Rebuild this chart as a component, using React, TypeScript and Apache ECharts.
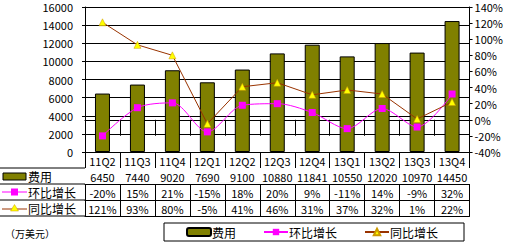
import React, { useEffect, useRef } from "react";
import * as echarts from "echarts";

const categories = ["11Q2", "11Q3", "11Q4", "12Q1", "12Q2", "12Q3", "12Q4", "13Q1", "13Q2", "13Q3", "13Q4"];
const expense = [6450, 7440, 9020, 7690, 9100, 10880, 11841, 10550, 12020, 10970, 14450];
const qoq = [-20, 15, 21, -15, 18, 20, 9, -11, 14, -9, 32];
const yoy = [121, 93, 80, -5, 41, 46, 31, 37, 32, 1, 22];
const seriesNames = ["费用", "环比增长", "同比增长"];
const unitLabel = "（万美元）";

const FONT = "'Noto Sans CJK SC', sans-serif";
const OLIVE = "#808000";
const MAGENTA = "#FF00FF";
const BROWN = "#993300";
const YELLOW = "#FFFF00";

const GRID_LEFT = 85;
const GRID_RIGHT = 30;
const GRID_TOP = 7;
const AXIS_Y = 152;
const ROW_H = 16;

export default function App() {
  const ref = useRef<HTMLDivElement>(null);
  useEffect(() => {
    if (!ref.current) return;
    const chart = echarts.init(ref.current, null, { renderer: "svg" });

    const rows = [
      null,
      expense.map((v) => String(v)),
      qoq.map((v) => v + "%"),
      yoy.map((v) => v + "%"),
    ];

    const xAxes: any[] = rows.map((row, i) => ({
      type: "category",
      gridIndex: 0,
      position: "bottom",
      offset: i * ROW_H,
      data: categories,
      axisLine: { show: true, lineStyle: { color: "#000", width: 1 } },
      axisTick: { show: true, length: ROW_H, interval: 0, lineStyle: { color: "#000" } },
      axisLabel: {
        interval: 0,
        margin: 3,
        color: "#000",
        fontSize: 11,
        fontFamily: FONT,
        formatter: row ? (_v: string, idx: number) => row[idx] : undefined,
      },
      splitLine: { show: false },
    }));
    xAxes.push({
      type: "category",
      gridIndex: 0,
      position: "bottom",
      offset: 4 * ROW_H,
      data: categories,
      axisLine: { show: true, lineStyle: { color: "#000", width: 1 } },
      axisTick: { show: false },
      axisLabel: { show: false },
    });

    const rowCenters = [1, 2, 3].map((r) => AXIS_Y + r * ROW_H + ROW_H / 2);
    const graphic: any[] = [];
    [1, 2, 3, 4].forEach((r) => {
      graphic.push({
        type: "line",
        shape: { x1: 0, y1: AXIS_Y + r * ROW_H, x2: GRID_LEFT, y2: AXIS_Y + r * ROW_H },
        style: { stroke: "#000", lineWidth: 1 },
      });
    });
    graphic.push({
      type: "rect",
      shape: { x: 3, y: rowCenters[0] - 3, width: 23, height: 7 },
      style: { fill: OLIVE, stroke: "#000", lineWidth: 1 },
    });
    graphic.push({
      type: "line",
      shape: { x1: 2, y1: rowCenters[1], x2: 27, y2: rowCenters[1] },
      style: { stroke: MAGENTA, lineWidth: 1 },
    });
    graphic.push({
      type: "rect",
      shape: { x: 11, y: rowCenters[1] - 3.5, width: 7, height: 7 },
      style: { fill: MAGENTA },
    });
    graphic.push({
      type: "line",
      shape: { x1: 2, y1: rowCenters[2] + 1, x2: 27, y2: rowCenters[2] + 1 },
      style: { stroke: BROWN, lineWidth: 1 },
    });
    graphic.push({
      type: "polygon",
      shape: {
        points: [
          [14.5, rowCenters[2] - 3.5],
          [10.5, rowCenters[2] + 3],
          [18.5, rowCenters[2] + 3],
        ],
      },
      style: { fill: YELLOW, stroke: "#CC9900", lineWidth: 0.5 },
    });
    seriesNames.forEach((name, i) => {
      graphic.push({
        type: "text",
        x: 28,
        y: rowCenters[i],
        style: {
          text: name,
          fill: "#000",
          font: `12px ${FONT}`,
          verticalAlign: "middle",
          align: "left",
        },
      });
    });
    graphic.push({
      type: "text",
      x: 5,
      y: 233,
      style: {
        text: unitLabel,
        fill: "#000",
        font: `10px ${FONT}`,
        verticalAlign: "middle",
        align: "left",
      },
    });

    chart.setOption({
      animation: false,
      backgroundColor: "#fff",
      textStyle: { fontFamily: FONT },
      grid: {
        left: GRID_LEFT,
        right: GRID_RIGHT,
        top: GRID_TOP,
        bottom: 245 - AXIS_Y,
        containLabel: false,
      },
      legend: {
        left: 164,
        top: 223,
        padding: [3, 26, 3, 22],
        itemGap: 27,
        itemWidth: 24,
        itemHeight: 8,
        borderColor: "#000",
        borderWidth: 1,
        backgroundColor: "#fff",
        textStyle: { fontSize: 12, color: "#000", fontFamily: FONT, padding: [0, 0, 0, -4] },
        data: seriesNames,
      },
      xAxis: xAxes,
      yAxis: [
        {
          type: "value",
          min: 0,
          max: 16000,
          interval: 2000,
          position: "left",
          axisLine: { show: true, lineStyle: { color: "#000" } },
          axisTick: { show: true, length: 3, lineStyle: { color: "#000" } },
          axisLabel: {
            color: "#000",
            fontSize: 11,
            fontFamily: FONT,
            margin: 12,
            formatter: (v: number) => String(v),
          },
          splitLine: { show: true, lineStyle: { color: "#000", width: 1 } },
        },
        {
          type: "value",
          min: -40,
          max: 140,
          interval: 20,
          position: "right",
          axisLine: { show: true, lineStyle: { color: "#000" } },
          axisTick: { show: true, length: 3, lineStyle: { color: "#000" } },
          axisLabel: {
            color: "#000",
            fontSize: 11,
            fontFamily: FONT,
            margin: 5,
            formatter: (v: number) => v + "%",
          },
          splitLine: { show: false },
        },
      ],
      series: [
        {
          name: seriesNames[0],
          type: "bar",
          xAxisIndex: 0,
          yAxisIndex: 0,
          data: expense,
          barWidth: 15,
          itemStyle: { color: OLIVE, borderColor: "#000", borderWidth: 1 },
        },
        {
          name: seriesNames[1],
          type: "line",
          xAxisIndex: 0,
          yAxisIndex: 1,
          data: qoq,
          smooth: 0.3,
          symbol: "rect",
          symbolSize: 7,
          itemStyle: { color: MAGENTA },
          lineStyle: { color: MAGENTA, width: 1 },
        },
        {
          name: seriesNames[2],
          type: "line",
          xAxisIndex: 0,
          yAxisIndex: 1,
          data: yoy,
          symbol: "triangle",
          symbolSize: 7,
          itemStyle: { color: YELLOW, borderColor: "#CC9900", borderWidth: 0.5 },
          lineStyle: { color: BROWN, width: 1 },
        },
      ],
      graphic,
    });
    return () => chart.dispose();
  }, []);

  return (
    <div
      ref={ref}
      style={{ position: "absolute", left: 0, top: 0, width: 506, height: 245, background: "#fff" }}
    />
  );
}
